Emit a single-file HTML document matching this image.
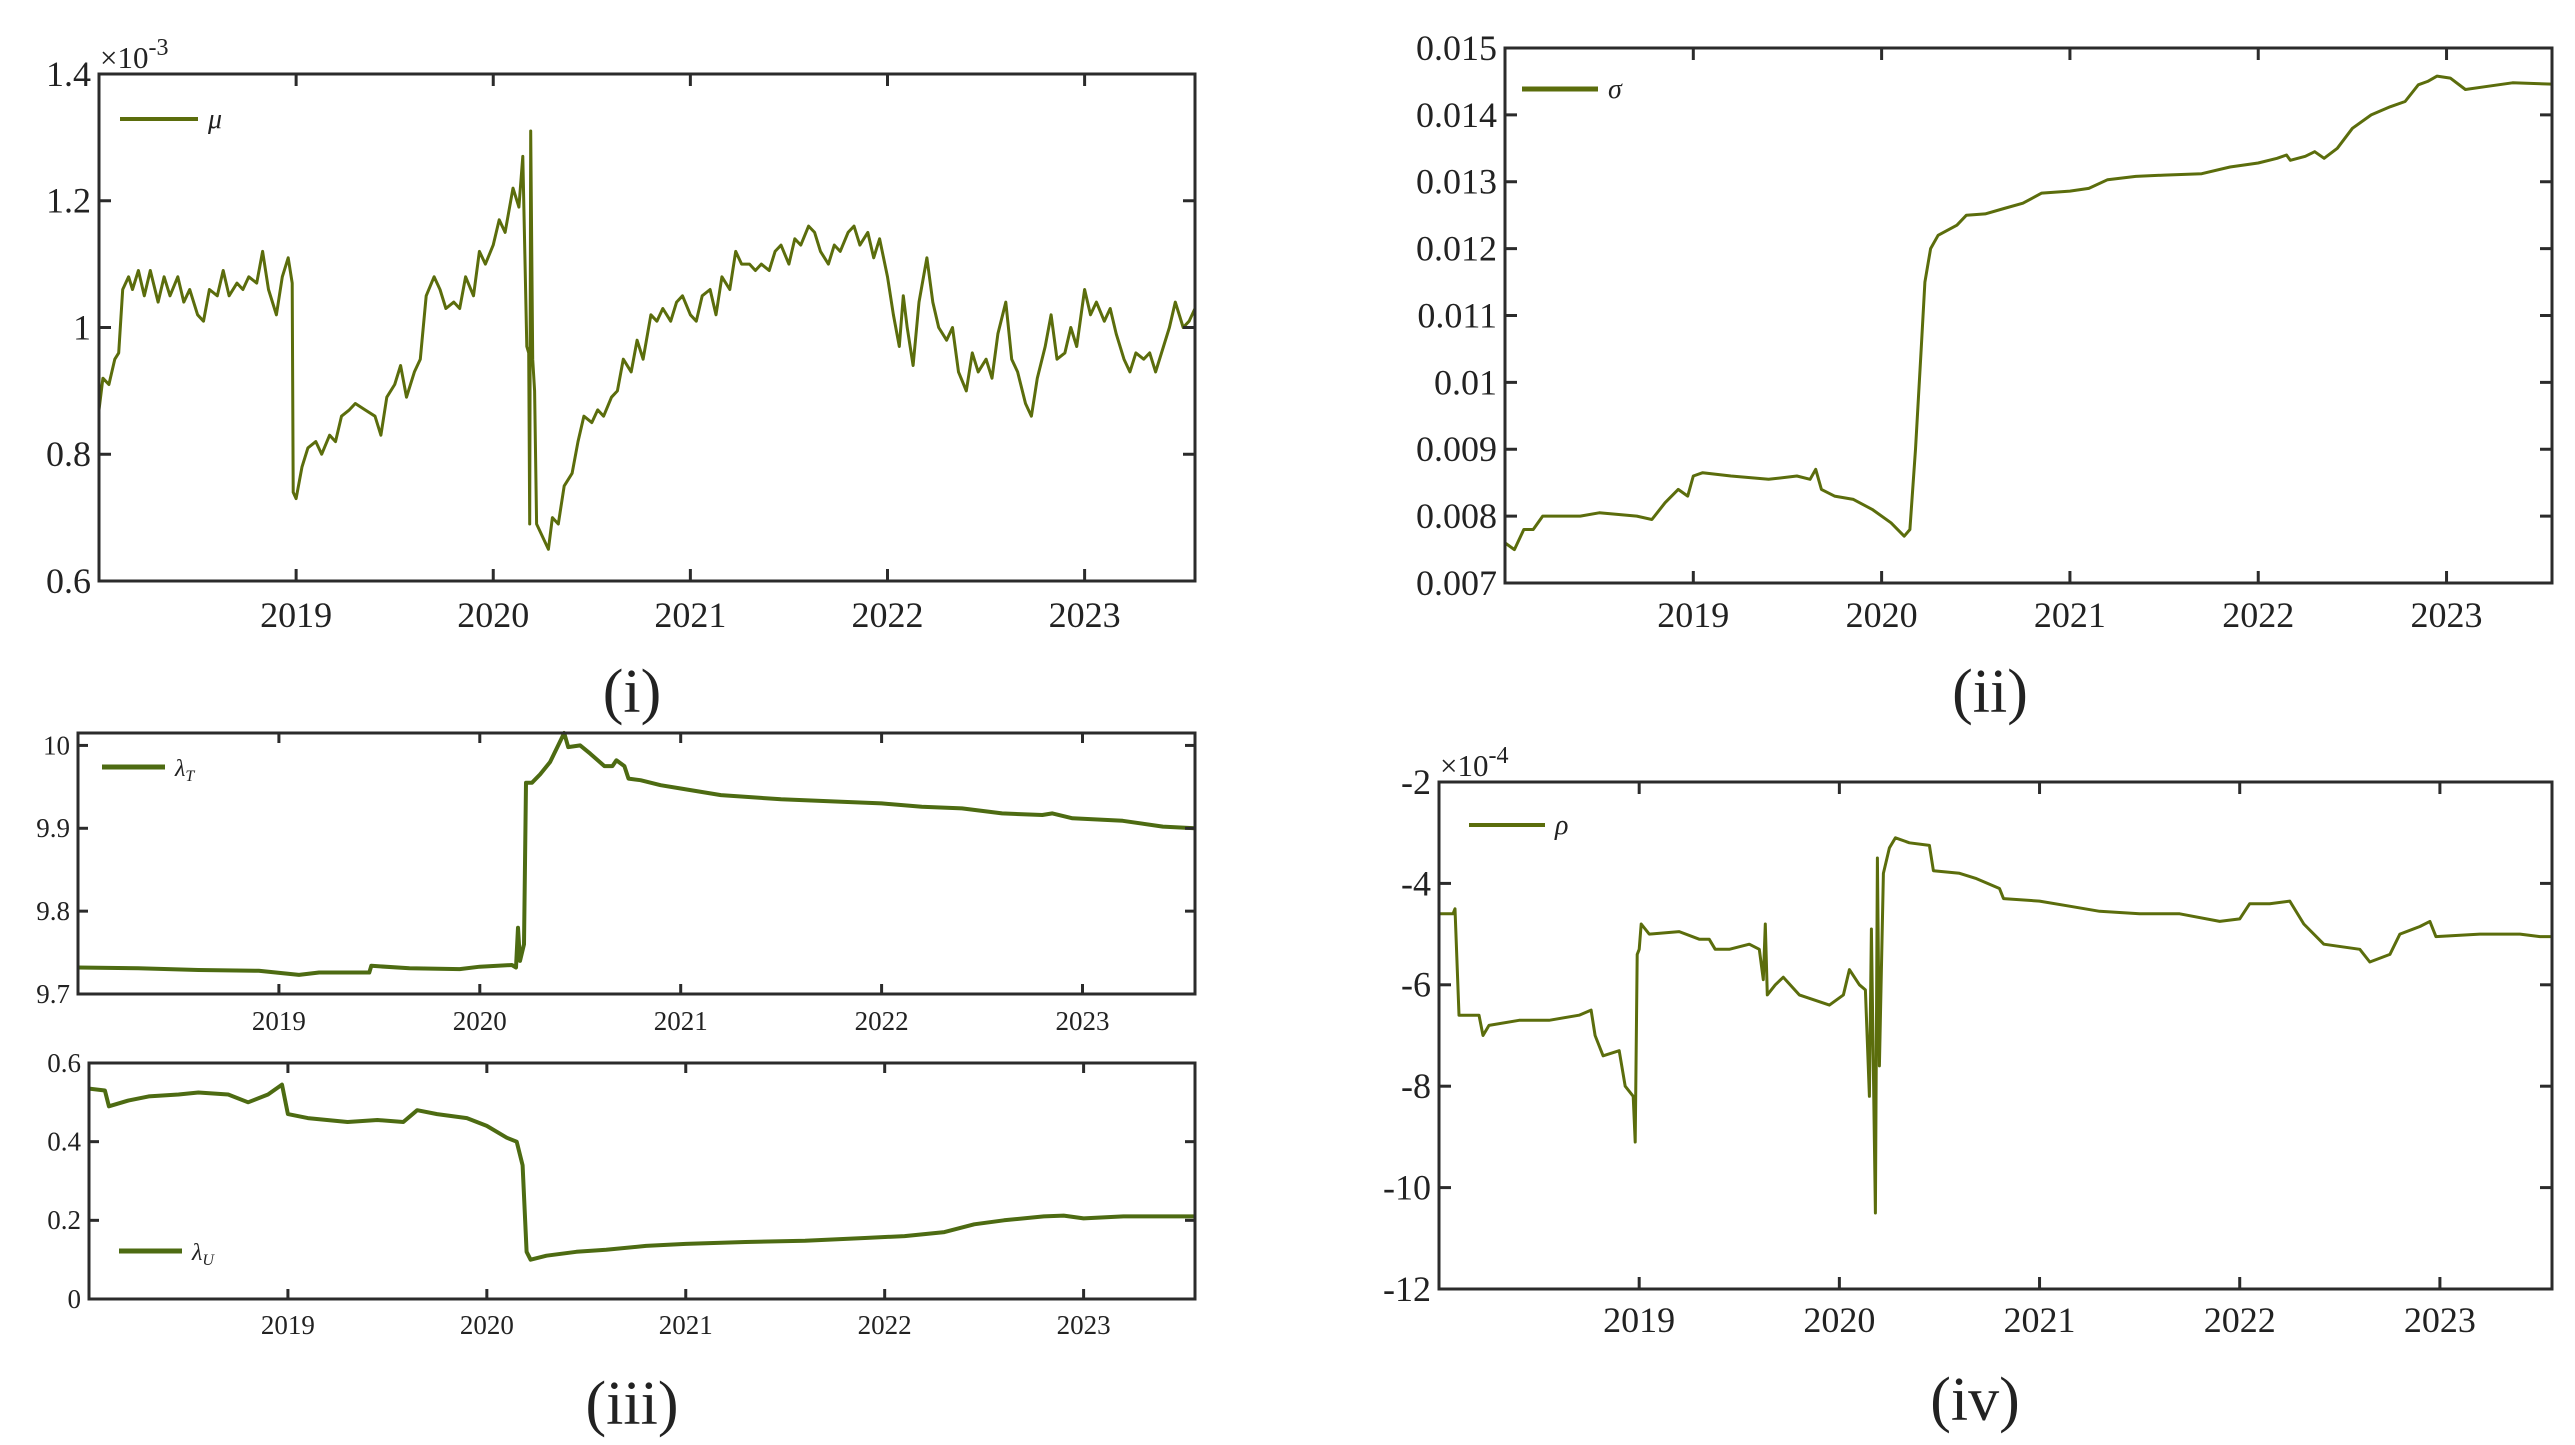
<!DOCTYPE html>
<html><head><meta charset="utf-8">
<style>
html,body{margin:0;padding:0;background:#fff;overflow:hidden;}
svg{display:block;font-family:"Liberation Serif",serif;}
</style></head>
<body>
<svg id="fig" width="2575" height="1445" viewBox="0 0 2575 1445" xmlns="http://www.w3.org/2000/svg"></svg>
<script>
// ---- data (decimal years, values) ----
const muYears=[2018.00,2018.02,2018.05,2018.08,2018.1,2018.12,2018.15,2018.17,2018.2,2018.23,2018.26,2018.3,2018.33,2018.36,2018.4,2018.43,2018.46,2018.5,2018.53,2018.56,2018.6,2018.63,2018.66,2018.7,2018.73,2018.76,2018.8,2018.83,2018.86,2018.9,2018.93,2018.96,2018.98,2018.985,2019.0,2019.03,2019.06,2019.1,2019.13,2019.17,2019.2,2019.23,2019.27,2019.3,2019.35,2019.4,2019.43,2019.46,2019.5,2019.53,2019.56,2019.6,2019.63,2019.66,2019.7,2019.73,2019.76,2019.8,2019.83,2019.86,2019.9,2019.93,2019.96,2020.0,2020.03,2020.06,2020.1,2020.13,2020.15,2020.17,2020.18,2020.185,2020.19,2020.2,2020.21,2020.22,2020.25,2020.28,2020.3,2020.33,2020.36,2020.4,2020.43,2020.46,2020.5,2020.53,2020.56,2020.6,2020.63,2020.66,2020.7,2020.73,2020.76,2020.8,2020.83,2020.86,2020.9,2020.93,2020.96,2021.0,2021.03,2021.06,2021.1,2021.13,2021.16,2021.2,2021.23,2021.26,2021.3,2021.33,2021.36,2021.4,2021.43,2021.46,2021.5,2021.53,2021.56,2021.6,2021.63,2021.66,2021.7,2021.73,2021.76,2021.8,2021.83,2021.86,2021.9,2021.93,2021.96,2022.0,2022.03,2022.06,2022.08,2022.1,2022.13,2022.16,2022.2,2022.23,2022.26,2022.3,2022.33,2022.36,2022.4,2022.43,2022.46,2022.5,2022.53,2022.56,2022.6,2022.63,2022.66,2022.7,2022.73,2022.76,2022.8,2022.83,2022.86,2022.9,2022.93,2022.96,2023.0,2023.03,2023.06,2023.1,2023.13,2023.16,2023.2,2023.23,2023.26,2023.3,2023.33,2023.36,2023.4,2023.43,2023.46,2023.5,2023.53,2023.56];
const muValues=[0.87,0.92,0.91,0.95,0.96,1.06,1.08,1.06,1.09,1.05,1.09,1.04,1.08,1.05,1.08,1.04,1.06,1.02,1.01,1.06,1.05,1.09,1.05,1.07,1.06,1.08,1.07,1.12,1.06,1.02,1.08,1.11,1.07,0.74,0.73,0.78,0.81,0.82,0.80,0.83,0.82,0.86,0.87,0.88,0.87,0.86,0.83,0.89,0.91,0.94,0.89,0.93,0.95,1.05,1.08,1.06,1.03,1.04,1.03,1.08,1.05,1.12,1.10,1.13,1.17,1.15,1.22,1.19,1.27,0.97,0.96,0.69,1.31,0.95,0.90,0.69,0.67,0.65,0.70,0.69,0.75,0.77,0.82,0.86,0.85,0.87,0.86,0.89,0.90,0.95,0.93,0.98,0.95,1.02,1.01,1.03,1.01,1.04,1.05,1.02,1.01,1.05,1.06,1.02,1.08,1.06,1.12,1.10,1.10,1.09,1.10,1.09,1.12,1.13,1.10,1.14,1.13,1.16,1.15,1.12,1.10,1.13,1.12,1.15,1.16,1.13,1.15,1.11,1.14,1.08,1.02,0.97,1.05,1.00,0.94,1.04,1.11,1.04,1.00,0.98,1.00,0.93,0.90,0.96,0.93,0.95,0.92,0.99,1.04,0.95,0.93,0.88,0.86,0.92,0.97,1.02,0.95,0.96,1.00,0.97,1.06,1.02,1.04,1.01,1.03,0.99,0.95,0.93,0.96,0.95,0.96,0.93,0.97,1.00,1.04,1.00,1.01,1.03];

const sigYears=[2018.0,2018.05,2018.1,2018.15,2018.2,2018.4,2018.5,2018.7,2018.78,2018.85,2018.92,2018.97,2019.0,2019.05,2019.2,2019.4,2019.55,2019.62,2019.65,2019.68,2019.75,2019.85,2019.95,2020.05,2020.12,2020.15,2020.18,2020.21,2020.23,2020.26,2020.3,2020.4,2020.45,2020.55,2020.65,2020.75,2020.85,2021.0,2021.1,2021.2,2021.35,2021.5,2021.7,2021.85,2022.0,2022.1,2022.15,2022.17,2022.25,2022.3,2022.35,2022.42,2022.5,2022.6,2022.7,2022.78,2022.85,2022.9,2022.95,2023.02,2023.1,2023.2,2023.35,2023.56];
const sigValues=[0.0076,0.0075,0.0078,0.0078,0.0080,0.0080,0.00805,0.0080,0.00795,0.0082,0.0084,0.0083,0.0086,0.00865,0.0086,0.00855,0.0086,0.00855,0.0087,0.0084,0.0083,0.00825,0.0081,0.0079,0.0077,0.0078,0.0090,0.0105,0.0115,0.0120,0.0122,0.01235,0.0125,0.01252,0.0126,0.01268,0.01283,0.01286,0.0129,0.01303,0.01308,0.0131,0.01312,0.01322,0.01328,0.01335,0.0134,0.01332,0.01338,0.01345,0.01335,0.0135,0.0138,0.0140,0.01412,0.0142,0.01445,0.0145,0.01458,0.01455,0.01438,0.01442,0.01448,0.01446];

const ltYears=[2018.0,2018.3,2018.6,2018.9,2019.1,2019.2,2019.45,2019.46,2019.65,2019.9,2020.0,2020.16,2020.18,2020.19,2020.2,2020.22,2020.23,2020.26,2020.3,2020.35,2020.4,2020.42,2020.44,2020.5,2020.55,2020.62,2020.66,2020.68,2020.72,2020.74,2020.8,2020.9,2021.0,2021.2,2021.5,2021.8,2022.0,2022.2,2022.4,2022.6,2022.8,2022.85,2022.95,2023.2,2023.4,2023.56];
const ltValues=[9.732,9.731,9.729,9.728,9.723,9.726,9.726,9.734,9.731,9.730,9.733,9.735,9.732,9.78,9.74,9.76,9.955,9.955,9.965,9.98,10.005,10.015,9.998,10.0,9.99,9.975,9.975,9.982,9.975,9.96,9.958,9.952,9.948,9.94,9.935,9.932,9.930,9.926,9.924,9.918,9.916,9.918,9.912,9.909,9.902,9.900];

const luYears=[2018.0,2018.08,2018.1,2018.2,2018.3,2018.45,2018.55,2018.7,2018.8,2018.9,2018.97,2019.0,2019.1,2019.3,2019.45,2019.58,2019.65,2019.75,2019.9,2020.0,2020.1,2020.15,2020.18,2020.2,2020.22,2020.3,2020.45,2020.6,2020.8,2021.0,2021.3,2021.6,2021.9,2022.1,2022.3,2022.45,2022.6,2022.8,2022.9,2023.0,2023.2,2023.56];
const luValues=[0.535,0.53,0.49,0.505,0.515,0.52,0.525,0.52,0.50,0.52,0.545,0.47,0.46,0.45,0.455,0.45,0.48,0.47,0.46,0.44,0.41,0.40,0.34,0.12,0.10,0.11,0.12,0.125,0.135,0.14,0.145,0.148,0.155,0.16,0.17,0.19,0.20,0.21,0.212,0.205,0.21,0.21];

const rhoYears=[2018.0,2018.07,2018.08,2018.1,2018.2,2018.22,2018.25,2018.4,2018.55,2018.7,2018.76,2018.78,2018.82,2018.9,2018.93,2018.97,2018.98,2018.99,2019.0,2019.01,2019.05,2019.2,2019.3,2019.35,2019.38,2019.45,2019.55,2019.6,2019.62,2019.63,2019.64,2019.68,2019.72,2019.8,2019.95,2020.02,2020.05,2020.1,2020.13,2020.15,2020.16,2020.18,2020.19,2020.2,2020.22,2020.25,2020.28,2020.35,2020.45,2020.47,2020.6,2020.68,2020.8,2020.82,2021.0,2021.15,2021.3,2021.5,2021.7,2021.9,2022.0,2022.05,2022.15,2022.25,2022.32,2022.42,2022.6,2022.65,2022.75,2022.8,2022.9,2022.95,2022.98,2023.2,2023.4,2023.5,2023.56];
const rhoValues=[-4.6,-4.6,-4.5,-6.6,-6.6,-7.0,-6.8,-6.7,-6.7,-6.6,-6.5,-7.0,-7.4,-7.3,-8.0,-8.2,-9.1,-5.4,-5.3,-4.8,-5.0,-4.95,-5.1,-5.1,-5.3,-5.3,-5.2,-5.3,-5.9,-4.8,-6.2,-6.0,-5.85,-6.2,-6.4,-6.2,-5.7,-6.0,-6.1,-8.2,-4.9,-10.5,-3.5,-7.6,-3.8,-3.3,-3.1,-3.2,-3.25,-3.75,-3.8,-3.9,-4.1,-4.3,-4.35,-4.45,-4.55,-4.6,-4.6,-4.75,-4.7,-4.4,-4.4,-4.35,-4.8,-5.2,-5.3,-5.55,-5.4,-5.0,-4.85,-4.75,-5.05,-5.0,-5.0,-5.05,-5.05];

const yearTicks=[2019,2020,2021,2022,2023];
const muTicks=[0.6,0.8,1,1.2,1.4];
const sigTicks=[0.007,0.008,0.009,0.010,0.011,0.012,0.013,0.014,0.015];
const sigTickLabels=["0.007","0.008","0.009","0.01","0.011","0.012","0.013","0.014","0.015"];
const ltTicks=[9.7,9.8,9.9,10];
const luTicks=[0,0.2,0.4,0.6];
const rhoTicks=[-12,-10,-8,-6,-4,-2];

const NS="http://www.w3.org/2000/svg";
const svg=document.getElementById('fig');
function mk(tag,attrs,parent){const e=document.createElementNS(NS,tag);for(const k in attrs)e.setAttribute(k,attrs[k]);(parent||svg).appendChild(e);return e;}

function panel(o){
  const g=mk('g',{});
  
  
  const X0=2018.0,X1=2023.56;
  const sx=v=>o.x0+(v-X0)/(X1-X0)*(o.x1-o.x0);
  const sy=v=>o.y1-(v-o.ymin)/(o.ymax-o.ymin)*(o.y1-o.y0);
  let d='';
  for(let i=0;i<o.xs.length;i++){d+=(i?'L':'M')+sx(o.xs[i]).toFixed(1)+' '+sy(o.ys[i]).toFixed(1);}
  const cp=mk('clipPath',{id:'cp'+o.name},g);
  mk('rect',{x:o.x0,y:o.y0-6,width:o.x1-o.x0,height:o.y1-o.y0+6},cp);
  const p=mk('path',{d:d,fill:'none',stroke:o.color,'stroke-width':o.lw,'stroke-linejoin':'round','clip-path':'url(#cp'+o.name+')'},g);
  
  
  const fr=mk('rect',{x:o.x0,y:o.y0,width:o.x1-o.x0,height:o.y1-o.y0,fill:'none',stroke:'#2b2b2b','stroke-width':3},g);
  
  
  const tl=o.tick||12;
  yearTicks.forEach(t=>{
    const x=sx(t);
    mk('line',{x1:x,y1:o.y1,x2:x,y2:o.y1-tl,stroke:'#2b2b2b','stroke-width':3},g);
    mk('line',{x1:x,y1:o.y0,x2:x,y2:o.y0+tl,stroke:'#2b2b2b','stroke-width':3},g);
    const tx=mk('text',{x:x,y:o.xly,'text-anchor':'middle','font-size':o.fs,fill:'#222'},g);
    tx.textContent=t;
    
    
  });
  o.yt.forEach((t,i)=>{
    const y=sy(t);
    mk('line',{x1:o.x0,y1:y,x2:o.x0+tl,y2:y,stroke:'#2b2b2b','stroke-width':3},g);
    mk('line',{x1:o.x1,y1:y,x2:o.x1-tl,y2:y,stroke:'#2b2b2b','stroke-width':3},g);
    const tx=mk('text',{x:o.x0-8,y:y+o.fs*0.33,'text-anchor':'end','font-size':o.fs,fill:'#222'},g);
    tx.textContent=o.ytl?o.ytl[i]:String(t);
    
    
  });
  const lg=mk('g',{},g);
  
  
  mk('line',{x1:o.lx,y1:o.ly,x2:o.lx+o.ll,y2:o.ly,stroke:o.color,'stroke-width':o.llw},lg);
  const lt=mk('text',{x:o.lx+o.ll+10,y:o.ly+9,'font-size':o.lfs,'font-style':'italic',fill:'#222'},lg);
  lt.innerHTML=o.label;
}

panel({name:'mu-panel',x0:99,x1:1195,y0:74,y1:581,ymin:0.6,ymax:1.4,xs:muYears,ys:muValues,yt:muTicks,color:'#5b6d0c',lw:3,fs:36,xly:627,lx:120,ly:119,ll:78,llw:4,lfs:28,label:'μ'});
panel({name:'sigma-panel',x0:1505,x1:2552,y0:48,y1:583,ymin:0.007,ymax:0.015,xs:sigYears,ys:sigValues,yt:sigTicks,ytl:sigTickLabels,color:'#5b6d0c',lw:3,fs:36,xly:627,lx:1522,ly:89,ll:76,llw:5,lfs:28,label:'σ'});
panel({name:'lambda-t-panel',x0:78,x1:1195,y0:733,y1:994,ymin:9.7,ymax:10.015,xs:ltYears,ys:ltValues,yt:ltTicks,color:'#4d6b12',lw:4,fs:27,xly:1030,lx:102,ly:767,ll:63,llw:5,lfs:24,label:'λ<tspan font-size="16" dy="5">T</tspan>',tick:10});
panel({name:'lambda-u-panel',x0:89,x1:1195,y0:1063,y1:1299,ymin:0,ymax:0.6,xs:luYears,ys:luValues,yt:luTicks,color:'#4d6b12',lw:4,fs:27,xly:1334,lx:119,ly:1251,ll:63,llw:5,lfs:24,label:'λ<tspan font-size="16" dy="5">U</tspan>',tick:10});
panel({name:'rho-panel',x0:1439,x1:2552,y0:782,y1:1289,ymin:-12,ymax:-2,xs:rhoYears,ys:rhoValues,yt:rhoTicks,color:'#5b6d0c',lw:3,fs:36,xly:1332,lx:1469,ly:825,ll:76,llw:4,lfs:28,label:'ρ'});

function txt(x,y,s,fs,name,anchor){const t=mk('text',{x:x,y:y,'font-size':fs,fill:'#222','text-anchor':anchor||'start'});t.innerHTML=s;}
txt(100,68,'×10<tspan font-size="24" dy="-13">-3</tspan>',31,'mu-exponent');
txt(1440,776,'×10<tspan font-size="24" dy="-13">-4</tspan>',31,'rho-exponent');
txt(632,712,'(i)',62,'caption-i','middle');
txt(1990,712,'(ii)',62,'caption-ii','middle');
txt(632,1424,'(iii)',62,'caption-iii','middle');
txt(1975,1420,'(iv)',62,'caption-iv','middle');
</script>
</body></html>
